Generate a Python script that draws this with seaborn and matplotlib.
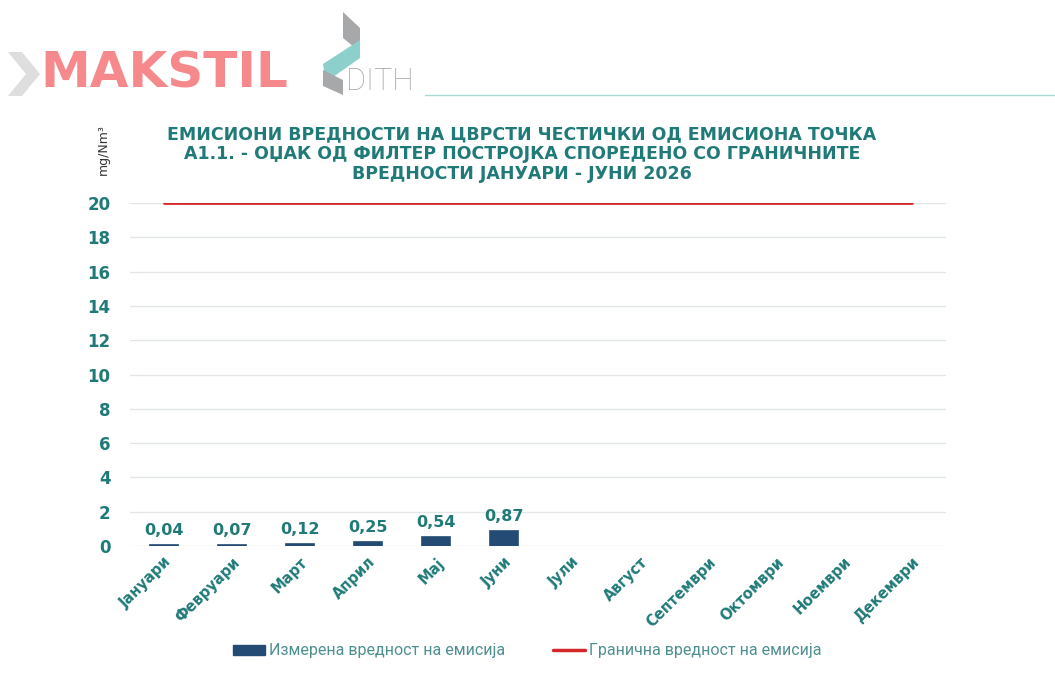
import matplotlib
matplotlib.use("Agg")
import matplotlib.pyplot as plt
from matplotlib.patches import Polygon, Rectangle
from matplotlib.lines import Line2D
import seaborn as sns
import numpy as np

# податоци
months = ['Јануари', 'Февруари', 'Март', 'Април', 'Мај', 'Јуни', 'Јули',
          'Август', 'Септември', 'Октомври', 'Ноември', 'Декември']
measured_months = ['Јануари', 'Февруари', 'Март', 'Април', 'Мај', 'Јуни']
measured = [0.04, 0.07, 0.12, 0.25, 0.54, 0.87]
limit = [20] * 12
yticks = [0, 2, 4, 6, 8, 10, 12, 14, 16, 18, 20]

TEAL = '#1f7a78'
NAVY = '#244b73'
RED = '#d5282b'

sns.set_style("white")
plt.rcParams['font.family'] = ['DejaVu Sans']

W, H = 1055, 674
fig = plt.figure(figsize=(W / 100, H / 100), dpi=100)


def px(x, y):
    return (x / W, 1 - y / H)


ax = fig.add_axes([130 / W, 1 - 546 / H, (946 - 130) / W, (546 - 203) / H])

sns.barplot(x=measured_months, y=measured, order=months, color=NAVY,
            width=0.4, saturation=1, edgecolor=NAVY, linewidth=1.2,
            ax=ax, zorder=3)
ax.plot(np.arange(len(months)), limit, color=RED, lw=2, zorder=4)

ax.bar_label(ax.containers[0],
             labels=[f"{v:.2f}".replace('.', ',') for v in measured],
             padding=5, color=TEAL, fontsize=11.5, fontweight='bold')

ax.set_xlim(-0.5, 11.5)
ax.set_ylim(0, 20)
ax.set_yticks(yticks)
ax.set_yticklabels([str(t) for t in yticks], color=TEAL, fontsize=12,
                   fontweight='bold')
ax.set_xticks(np.arange(len(months)))
ax.set_xticklabels(months, rotation=45, ha='right', rotation_mode='anchor',
                   color=TEAL, fontsize=10.5, fontweight='bold')
ax.tick_params(axis='both', length=0)
ax.tick_params(axis='y', pad=14)
ax.tick_params(axis='x', pad=6)
ax.grid(axis='y', color='#e3e6e8', lw=1, zorder=0)
ax.set_xlabel('')
ax.set_ylabel('')
for s in ax.spines.values():
    s.set_visible(False)

# наслов и единица
fig.text(*px(522, 154),
         'ЕМИСИОНИ ВРЕДНОСТИ НА ЦВРСТИ ЧЕСТИЧКИ ОД ЕМИСИОНА ТОЧКА\n'
         'А1.1. - ОЏАК ОД ФИЛТЕР ПОСТРОЈКА СПОРЕДЕНО СО ГРАНИЧНИТЕ\n'
         'ВРЕДНОСТИ ЈАНУАРИ - ЈУНИ 2026',
         ha='center', va='center', color=TEAL, fontsize=12.5,
         fontweight='bold', linespacing=1.12)
fig.text(*px(103, 150), 'mg/Nm³', rotation=90, ha='center', va='center',
         fontsize=9, color='#333333')

# легенда
handles = [Rectangle((0, 0), 1, 1, color=NAVY),
           Line2D([0], [0], color=RED, lw=2.5)]
fig.legend(handles, ['Измерена вредност на емисија',
                     'Гранична вредност на емисија'],
           loc='center', bbox_to_anchor=px(527, 651), ncol=2, frameon=False,
           labelcolor='#4e8f8f', handlelength=2.0,
           handleheight=0.55, handletextpad=0.25, columnspacing=3.0,
           prop={'family': 'Roboto', 'size': 11.5})

# логоа
fig.add_artist(Polygon([px(8, 52), px(22, 52), px(40, 74), px(22, 96),
                        px(8, 96), px(26, 74)], closed=True,
                       facecolor='#dedede', edgecolor='none',
                       transform=fig.transFigure))
fig.text(*px(40, 74), 'MAKSTIL', ha='left', va='center', color='#f5898c',
         fontsize=36, fontweight='heavy')
fig.add_artist(Polygon([px(343, 12), px(360, 28), px(360, 52), px(343, 38)],
                       closed=True, facecolor='#a6a8aa', edgecolor='none',
                       transform=fig.transFigure))
fig.add_artist(Polygon([px(360, 40), px(360, 58), px(326, 82), px(323, 64)],
                       closed=True, facecolor='#8ccfcb', edgecolor='none',
                       transform=fig.transFigure))
fig.add_artist(Polygon([px(323, 70), px(343, 80), px(343, 95), px(323, 86)],
                       closed=True, facecolor='#a6a8aa', edgecolor='none',
                       transform=fig.transFigure))
fig.text(*px(346, 82), 'DITH', ha='left', va='center', color='#a6a8aa',
         fontsize=22, fontweight='light', family='Roboto')
fig.add_artist(Line2D([425 / W, 1], [1 - 95 / H, 1 - 95 / H], color='#a8dcd9',
                      lw=1.0, transform=fig.transFigure))

fig.savefig('out.png', dpi=100)
